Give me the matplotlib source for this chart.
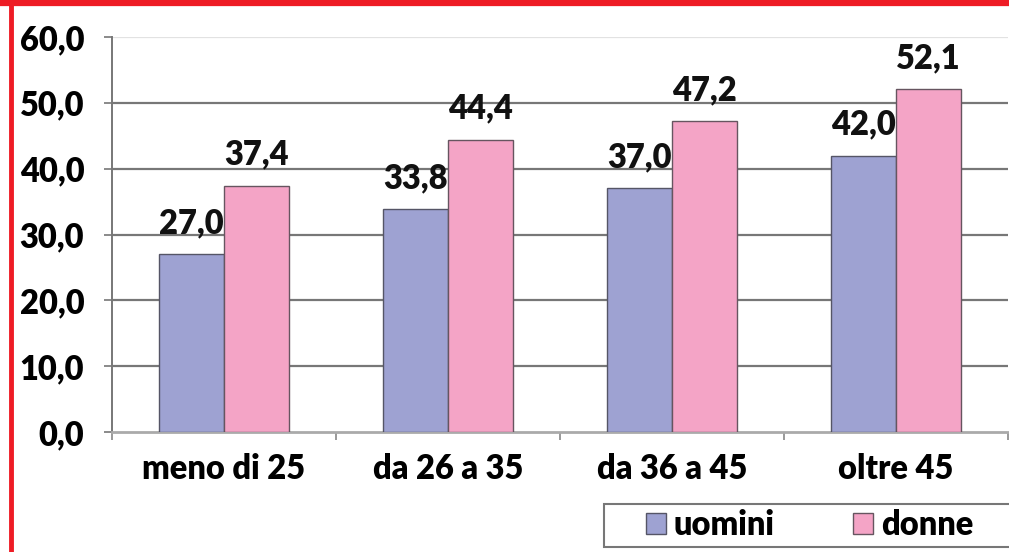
import numpy as np
import matplotlib

matplotlib.use('Agg')
import matplotlib.pyplot as plt
from matplotlib.patches import Rectangle
from matplotlib.lines import Line2D

categories = ['meno di 25', 'da 26 a 35', 'da 36 a 45', 'oltre 45']
uomini = [27.0, 33.8, 37.0, 42.0]
donne = [37.4, 44.4, 47.2, 52.1]
yticks = [0, 10, 20, 30, 40, 50, 60]

plt.rcParams['font.family'] = ['Lato', 'DejaVu Sans']
plt.rcParams['font.weight'] = 'heavy'

FS = 23.5
W, H = 1009, 552
fig = plt.figure(figsize=(W / 100, H / 100), dpi=100)
# axes placed in pixel terms: left 112, right 1008, top 37, bottom 432
ax = fig.add_axes([112 / W, 1 - 432 / H, (1008 - 112) / W, (432 - 37) / H])

x = np.arange(len(categories))
bw = 0.29
c_u = '#9ea2d2'
c_d = '#f4a4c6'
ax.bar(x - bw / 2, uomini, bw, color=c_u, edgecolor='#555566', linewidth=1, zorder=3)
ax.bar(x + bw / 2, donne, bw, color=c_d, edgecolor='#665560', linewidth=1, zorder=3)

for xi, v in zip(x, uomini):
    ax.text(xi - bw / 2, v + 2.3, f'{v:.1f}'.replace('.', ','), ha='center', va='bottom',
            fontsize=FS, fontweight='heavy', color='#111111')
for xi, v in zip(x, donne):
    ax.text(xi + bw / 2, v + 2.3, f'{v:.1f}'.replace('.', ','), ha='center', va='bottom',
            fontsize=FS, fontweight='heavy', color='#111111')

ax.set_xlim(-0.5, len(categories) - 0.5)
ax.set_ylim(0, 60)
ax.set_yticks(yticks)
ax.set_yticklabels([f'{t:.1f}'.replace('.', ',') for t in yticks], fontsize=FS, fontweight='heavy')
ax.set_xticks(x)
ax.set_xticklabels(categories, fontsize=FS, fontweight='heavy')
ax.tick_params(axis='x', length=0, pad=15)
ax.tick_params(axis='y', length=6, width=1.2, color='#777777', pad=14)
ax.set_xticks(np.arange(-0.5, len(categories)), minor=True)
ax.tick_params(axis='x', which='minor', length=6, width=1.2, color='#888888', direction='out')

for t in yticks[1:]:
    ax.axhline(t, color='#e2e2e2' if t == 60 else '#777777', linewidth=1.6, zorder=1)

for s in ['top', 'right']:
    ax.spines[s].set_visible(False)
ax.spines['left'].set_color('#777777')
ax.spines['left'].set_linewidth(1.4)
ax.spines['bottom'].set_color('#aaaaaa')
ax.spines['bottom'].set_linewidth(2)

# legend box
fig.patches.append(Rectangle((604 / W, 1 - 547 / H), 420 / W, 43 / H, transform=fig.transFigure,
                             facecolor='white', edgecolor='#777777', linewidth=1.5))
handles = [Rectangle((0, 0), 1, 1, facecolor=c_u, edgecolor='#555566'),
           Rectangle((0, 0), 1, 1, facecolor=c_d, edgecolor='#665560')]
fig.legend(handles, ['uomini', 'donne'], loc='center left', bbox_to_anchor=(633 / W, 1 - 525 / H),
           ncol=2, frameon=False, fontsize=FS, handlelength=0.6, handleheight=0.6,
           handletextpad=0.25, columnspacing=2.4, borderaxespad=0)

# red frame
fig.add_artist(Line2D([10.5 / W, 10.5 / W], [0, 1], transform=fig.transFigure, color='#ee1c25', linewidth=3.5))
fig.add_artist(Line2D([0, 1], [1 - 3 / H, 1 - 3 / H], transform=fig.transFigure, color='#ee1c25', linewidth=4.5))

fig.savefig('out.png', dpi=100)
